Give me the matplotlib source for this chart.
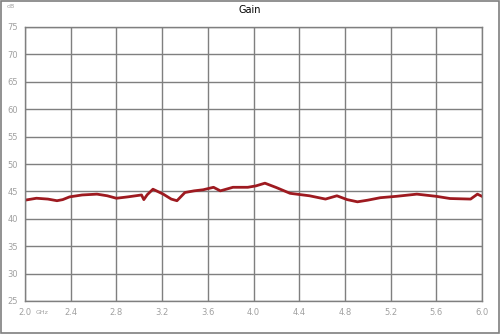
import numpy as np
import matplotlib.pyplot as plt

# frequency in GHz and gain in dB
freq = [2.00, 2.10, 2.20, 2.28, 2.33, 2.39, 2.50, 2.63, 2.72, 2.80, 2.90,
        3.02, 3.04, 3.07, 3.12, 3.21, 3.28, 3.33, 3.40, 3.48, 3.56, 3.65,
        3.71, 3.82, 3.95, 4.02, 4.10, 4.20, 4.32, 4.49, 4.63, 4.73, 4.82,
        4.91, 5.00, 5.11, 5.25, 5.43, 5.60, 5.72, 5.90, 5.96, 6.00]
gain = [43.4, 43.75, 43.6, 43.3, 43.5, 44.0, 44.35, 44.5, 44.2, 43.75, 44.0,
        44.35, 43.5, 44.4, 45.4, 44.5, 43.6, 43.3, 44.8, 45.1, 45.3, 45.75,
        45.1, 45.75, 45.75, 46.0, 46.5, 45.7, 44.65, 44.2, 43.6, 44.2, 43.5,
        43.1, 43.4, 43.85, 44.1, 44.5, 44.1, 43.7, 43.6, 44.5, 44.1]

xticks = [2.0, 2.4, 2.8, 3.2, 3.6, 4.0, 4.4, 4.8, 5.2, 5.6, 6.0]
yticks = [25, 30, 35, 40, 45, 50, 55, 60, 65, 70, 75]

grid_col = "#7f7f7f"
lab_col = "#a0a0a0"

fig = plt.figure(figsize=(5, 3.34), dpi=100)
ax = fig.add_axes([25 / 500, 1 - 301 / 334, 457 / 500, 274 / 334])

ax.plot(freq, gain, color="#9e1a20", linewidth=2, solid_joinstyle="round")

ax.set_xlim(2.0, 6.0)
ax.set_ylim(25, 75)
ax.set_xticks(xticks)
ax.set_yticks(yticks)
ax.set_xticklabels([f"{t:.1f}" for t in xticks])
ax.grid(True, color=grid_col, linewidth=1)
for s in ax.spines.values():
    s.set_color(grid_col)
    s.set_linewidth(1)
ax.tick_params(length=0, labelsize=6, labelcolor=lab_col, pad=5)

fig.text(0.5, 1 - 10 / 334, "Gain", ha="center", va="center", fontsize=7)
fig.text(7 / 500, 1 - 6 / 334, "dB", ha="left", va="center", fontsize=4.5, color=lab_col)
fig.text(36 / 500, 1 - 313 / 334, "GHz", ha="left", va="center", fontsize=4.5, color=lab_col)

# border round the whole figure
fig.add_artist(plt.Rectangle((0.001, 0.002), 0.997, 0.995, transform=fig.transFigure,
                             fill=False, edgecolor=grid_col, linewidth=1.2))

fig.savefig("out.png", dpi=100)
